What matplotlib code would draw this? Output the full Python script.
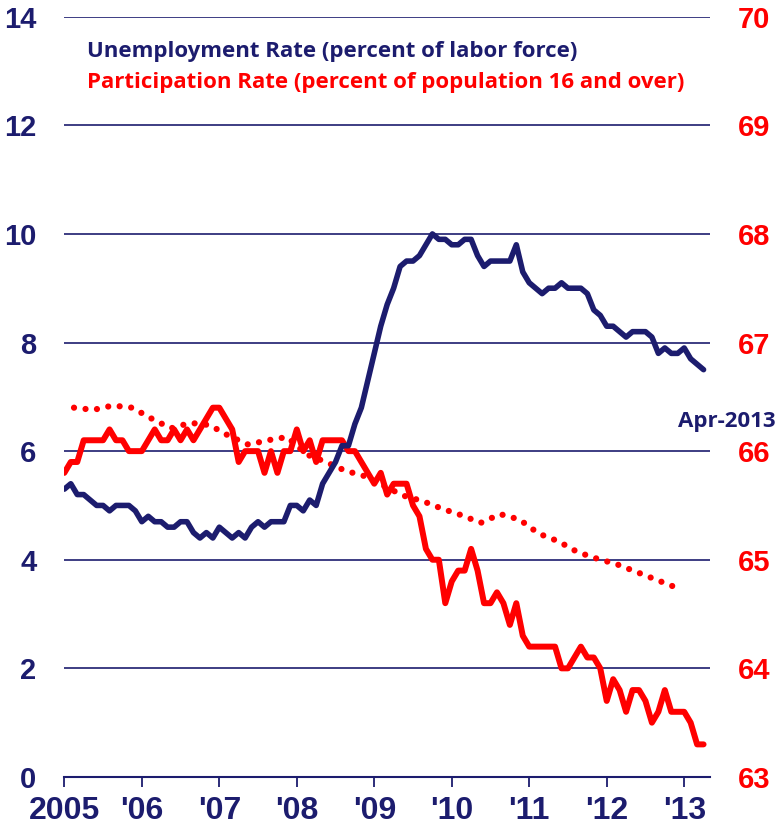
import matplotlib.pyplot as plt
import numpy as np

navy = '#1c1c6e'
red = '#ff0000'

# monthly, Jan 2005 - Apr 2013
unemployment = [
    5.3, 5.4, 5.2, 5.2, 5.1, 5.0, 5.0, 4.9, 5.0, 5.0, 5.0, 4.9,
    4.7, 4.8, 4.7, 4.7, 4.6, 4.6, 4.7, 4.7, 4.5, 4.4, 4.5, 4.4,
    4.6, 4.5, 4.4, 4.5, 4.4, 4.6, 4.7, 4.6, 4.7, 4.7, 4.7, 5.0,
    5.0, 4.9, 5.1, 5.0, 5.4, 5.6, 5.8, 6.1, 6.1, 6.5, 6.8, 7.3,
    7.8, 8.3, 8.7, 9.0, 9.4, 9.5, 9.5, 9.6, 9.8, 10.0, 9.9, 9.9,
    9.8, 9.8, 9.9, 9.9, 9.6, 9.4, 9.5, 9.5, 9.5, 9.5, 9.8, 9.3,
    9.1, 9.0, 8.9, 9.0, 9.0, 9.1, 9.0, 9.0, 9.0, 8.9, 8.6, 8.5,
    8.3, 8.3, 8.2, 8.1, 8.2, 8.2, 8.2, 8.1, 7.8, 7.9, 7.8, 7.8,
    7.9, 7.7, 7.6, 7.5,
]
participation = [
    65.8, 65.9, 65.9, 66.1, 66.1, 66.1, 66.1, 66.2, 66.1, 66.1, 66.0, 66.0,
    66.0, 66.1, 66.2, 66.1, 66.1, 66.2, 66.1, 66.2, 66.1, 66.2, 66.3, 66.4,
    66.4, 66.3, 66.2, 65.9, 66.0, 66.0, 66.0, 65.8, 66.0, 65.8, 66.0, 66.0,
    66.2, 66.0, 66.1, 65.9, 66.1, 66.1, 66.1, 66.1, 66.0, 66.0, 65.9, 65.8,
    65.7, 65.8, 65.6, 65.7, 65.7, 65.7, 65.5, 65.4, 65.1, 65.0, 65.0, 64.6,
    64.8, 64.9, 64.9, 65.1, 64.9, 64.6, 64.6, 64.7, 64.6, 64.4, 64.6, 64.3,
    64.2, 64.2, 64.2, 64.2, 64.2, 64.0, 64.0, 64.1, 64.2, 64.1, 64.1, 64.0,
    63.7, 63.9, 63.8, 63.6, 63.8, 63.8, 63.7, 63.5, 63.6, 63.8, 63.6, 63.6,
    63.6, 63.5, 63.3, 63.3,
]
# quarterly trend participation (dotted), Q1 2005 - Q4 2012
trend = [
    66.40, 66.38, 66.42, 66.40, 66.30, 66.21, 66.26, 66.24,
    66.14, 66.06, 66.10, 66.13, 65.97, 65.90, 65.82, 65.77,
    65.68, 65.59, 65.54, 65.47, 65.41, 65.34, 65.42, 65.37,
    65.24, 65.17, 65.07, 65.01, 64.96, 64.89, 64.82, 64.75,
]
year_labels = ['2005', "'06", "'07", "'08", "'09", "'10", "'11", "'12", "'13"]

months = np.arange(len(unemployment))
trend_months = 1.5 + 3 * np.arange(len(trend))

tick_font = {'family': ['Liberation Sans', 'DejaVu Sans'], 'weight': 'bold'}
text_font = {'family': ['Open Sans', 'DejaVu Sans'], 'weight': 'bold'}

fig = plt.figure(figsize=(7.77, 8.30), dpi=100)
ax_p = fig.add_axes([0.0828, 0.0639, 0.831, 0.916])
ax_u = ax_p.twinx()

# participation (right axis), gridlines live here so they sit under the lines
ax_p.plot(months, participation, color=red, lw=4.3,
          solid_joinstyle='round', solid_capstyle='round')
ax_p.plot(trend_months, trend, color=red, lw=4.5,
          linestyle=(0, (0.001, 1.85)), dash_capstyle='round')
ax_p.set_ylim(63, 70)
ax_p.set_yticks(range(63, 71))
ax_p.grid(axis='y', color=navy, lw=1.2)
ax_p.set_axisbelow(True)
ax_p.yaxis.tick_right()
ax_p.tick_params(axis='y', length=0, pad=20, labelcolor=red)
for lab in ax_p.get_yticklabels():
    lab.set_fontsize(21)
    lab.set_fontfamily(tick_font['family'])
    lab.set_fontweight('bold')

ax_p.set_xlim(0, 100)
ax_p.set_xticks(np.arange(len(year_labels)) * 12)
ax_p.set_xticklabels(year_labels, fontsize=23, **tick_font)
ax_p.tick_params(axis='x', direction='out', length=7, width=1.3,
                 color=navy, labelcolor=navy, pad=7)
for side in ['left', 'right', 'top']:
    ax_p.spines[side].set_visible(False)
ax_p.spines['bottom'].set_color(navy)
ax_p.spines['bottom'].set_linewidth(1.5)

# unemployment (left axis)
ax_u.plot(months, unemployment, color=navy, lw=4.0,
          solid_joinstyle='round', solid_capstyle='round')
ax_u.set_ylim(0, 14)
ax_u.set_yticks(range(0, 15, 2))
ax_u.yaxis.tick_left()
ax_u.tick_params(axis='y', length=0, pad=20, labelcolor=navy)
for lab in ax_u.get_yticklabels():
    lab.set_fontsize(21)
    lab.set_fontfamily(tick_font['family'])
    lab.set_fontweight('bold')
for side in ax_u.spines:
    ax_u.spines[side].set_visible(False)

fig.text(87 / 777, 1 - 57 / 830, 'Unemployment Rate (percent of labor force)',
         color=navy, fontsize=16, va='baseline', **text_font)
fig.text(87 / 777, 1 - 88 / 830, 'Participation Rate (percent of population 16 and over)',
         color=red, fontsize=16, va='baseline', **text_font)
fig.text(678 / 777, 1 - 421 / 830, 'Apr-2013', color=navy, fontsize=16,
         va='center', **text_font)

fig.savefig('out.png', dpi=100)
